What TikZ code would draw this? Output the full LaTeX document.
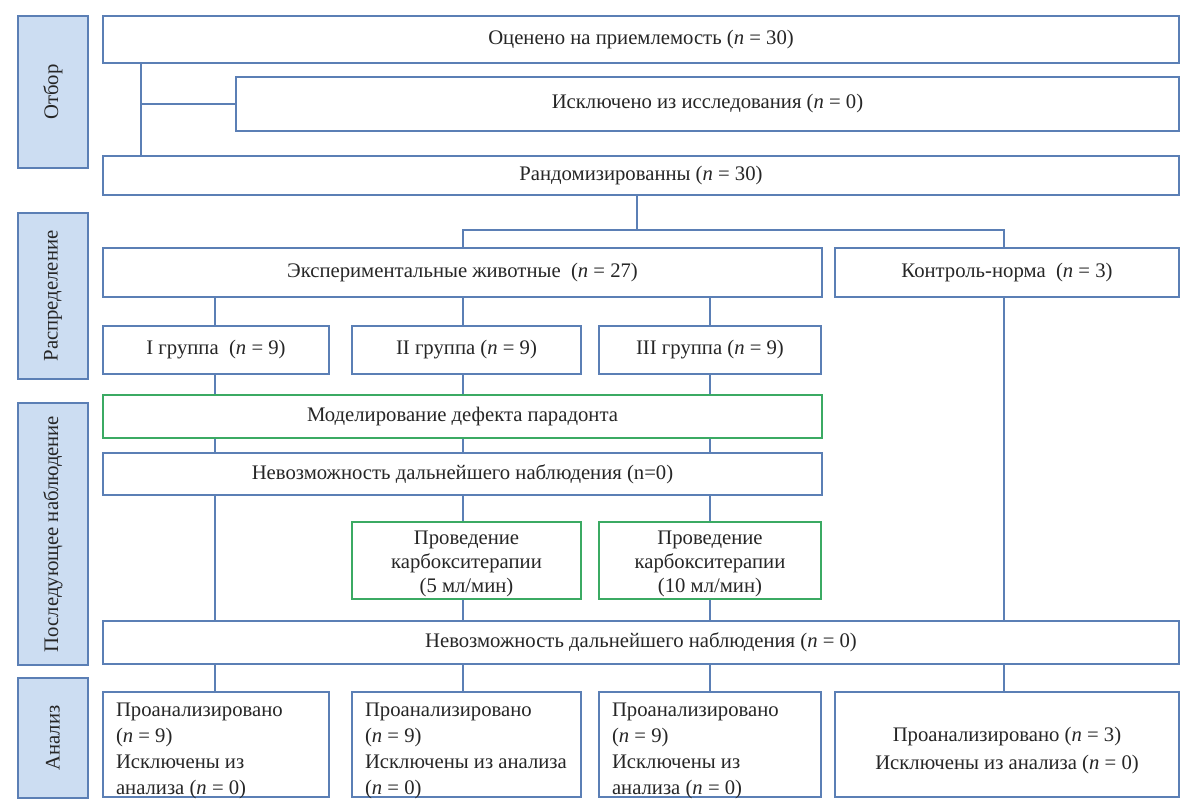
\documentclass[tikz,border=0pt]{standalone}
\usepackage{fontspec}
\setmainfont{Liberation Serif}
\definecolor{bx}{HTML}{5B7FB5}
\definecolor{gr}{HTML}{3BAA63}
\definecolor{sidefill}{HTML}{CCDDF2}
\newcommand{\fz}{\fontsize{20.7}{25}\selectfont}
\newcommand{\fza}{\fontsize{20.7}{26}\selectfont}
\newcommand{\fzb}{\fontsize{20.7}{28}\selectfont}
\newcommand{\nn}{\textit{n}}
\tikzset{
  base/.style={draw=bx, line width=1.4pt, inner sep=0pt, font=\fz, align=center, text=black!85},
  box/.style={base, fill=white},
  gbox/.style={base, draw=gr, font=\fontsize{20.7}{24}\selectfont, align=flush center, text width=200},
  side/.style={base, fill=sidefill, rotate=90},
  abox/.style={base, align=flush left, inner xsep=13pt, font=\fza},
  conn/.style={draw=bx, line width=1.4pt},
}
\begin{document}
\begin{tikzpicture}[x=1pt, y=-1pt]
\useasboundingbox (0,0) rectangle (1200,807);
% side labels
\node[side, minimum width=152, minimum height=70] (sSel) at (53,92) {Отбор};
\node[side, minimum width=166, minimum height=70] (sDist) at (53,296) {Распределение};
\node[side, minimum width=262, minimum height=70] (sFol) at (53,534) {Последующее наблюдение};
\node[side, minimum width=120, minimum height=70] (sAna) at (53,738) {Анализ};
% column coordinates
\coordinate (cL) at (141,0);
\coordinate (cR) at (637,0);
\coordinate (c1) at (215,0);
\coordinate (c2) at (463,0);
\coordinate (c3) at (710,0);
\coordinate (c4) at (1004,0);
\coordinate (hY) at (0,230);
% main boxes
\node[box, minimum width=1076, minimum height=47] (b1) at (641,39.5) {Оценено на приемлемость (\nn{} = 30)};
\node[box, minimum width=943, minimum height=54] (b2) at (707.5,104) {Исключено из исследования (\nn{} = 0)};
\node[box, minimum width=1076, minimum height=39] (b3) at (641,175.5) {Рандомизированны (\nn{} = 30)};
\node[box, minimum width=719, minimum height=49] (exp) at (462.5,272.5) {Экспериментальные животные\enspace(\nn{} = 27)};
\node[box, minimum width=344, minimum height=49] (ctl) at (1007,272.5) {Контроль-норма\enspace(\nn{} = 3)};
\node[box, minimum width=226, minimum height=48] (g1) at (216,350) {I группа\enspace(\nn{} = 9)};
\node[box, minimum width=229, minimum height=48] (g2) at (466.5,350) {II группа (\nn{} = 9)};
\node[box, minimum width=222, minimum height=48] (g3) at (710,350) {III группа (\nn{} = 9)};
\node[box, draw=gr, minimum width=719, minimum height=43] (mod) at (462.5,416.5) {Моделирование дефекта парадонта};
\node[box, minimum width=719, minimum height=42] (nev1) at (462.5,474) {Невозможность дальнейшего наблюдения (n=0)};
\node[gbox, minimum width=229, minimum height=77] (k5) at (466.5,560.5) {Проведение\\карбокситерапии\\(5 мл/мин)\par\vspace{-7pt}};
\node[gbox, minimum width=222, minimum height=77] (k10) at (710,560.5) {Проведение\\карбокситерапии\\(10 мл/мин)\par\vspace{-7pt}};
\node[box, minimum width=1076, minimum height=43] (nev2) at (641,642.5) {Невозможность дальнейшего наблюдения (\nn{} = 0)};
\node[abox, text width=200, minimum height=105] (a1) at (216,744.5) {Проанализировано\\(\nn{} = 9)\\Исключены из\\анализа (\nn{} = 0)\par\vspace{-12pt}};
\node[abox, text width=203, minimum height=105] (a2) at (466.5,744.5) {Проанализировано\\(\nn{} = 9)\\Исключены из анализа\\(\nn{} = 0)\par\vspace{-12pt}};
\node[abox, text width=196, minimum height=105] (a3) at (710,744.5) {Проанализировано\\(\nn{} = 9)\\Исключены из\\анализа (\nn{} = 0)\par\vspace{-12pt}};
\node[box, font=\fzb, align=flush center, text width=320, minimum width=344, minimum height=105] (a4) at (1007,744.5) {Проанализировано (\nn{} = 3)\\Исключены из анализа (\nn{} = 0)\par\vspace{-12pt}};
% connectors
\draw[conn] (b1.south -| cL) -- (b3.north -| cL);
\draw[conn] (b2.west -| cL) -- (b2.west);
\draw[conn] (b3.south -| cR) -- (hY -| cR);
\draw[conn] (exp.north -| c2) -- (hY -| c2) -- (hY -| c4) -- (ctl.north -| c4);
\foreach \c in {c1,c2,c3} {
  \draw[conn] (exp.south -| \c) -- (g1.north -| \c);
  \draw[conn] (g1.south -| \c) -- (mod.north -| \c);
  \draw[conn] (mod.south -| \c) -- (nev1.north -| \c);
}
\draw[conn] (nev1.south -| c1) -- (nev2.north -| c1);
\draw[conn] (nev1.south -| c2) -- (k5.north -| c2);
\draw[conn] (nev1.south -| c3) -- (k10.north -| c3);
\draw[conn] (k5.south -| c2) -- (nev2.north -| c2);
\draw[conn] (k10.south -| c3) -- (nev2.north -| c3);
\draw[conn] (ctl.south -| c4) -- (nev2.north -| c4);
\draw[conn] (nev2.south -| c1) -- (a1.north -| c1);
\draw[conn] (nev2.south -| c2) -- (a2.north -| c2);
\draw[conn] (nev2.south -| c3) -- (a3.north -| c3);
\draw[conn] (nev2.south -| c4) -- (a4.north -| c4);
\end{tikzpicture}
\end{document}
